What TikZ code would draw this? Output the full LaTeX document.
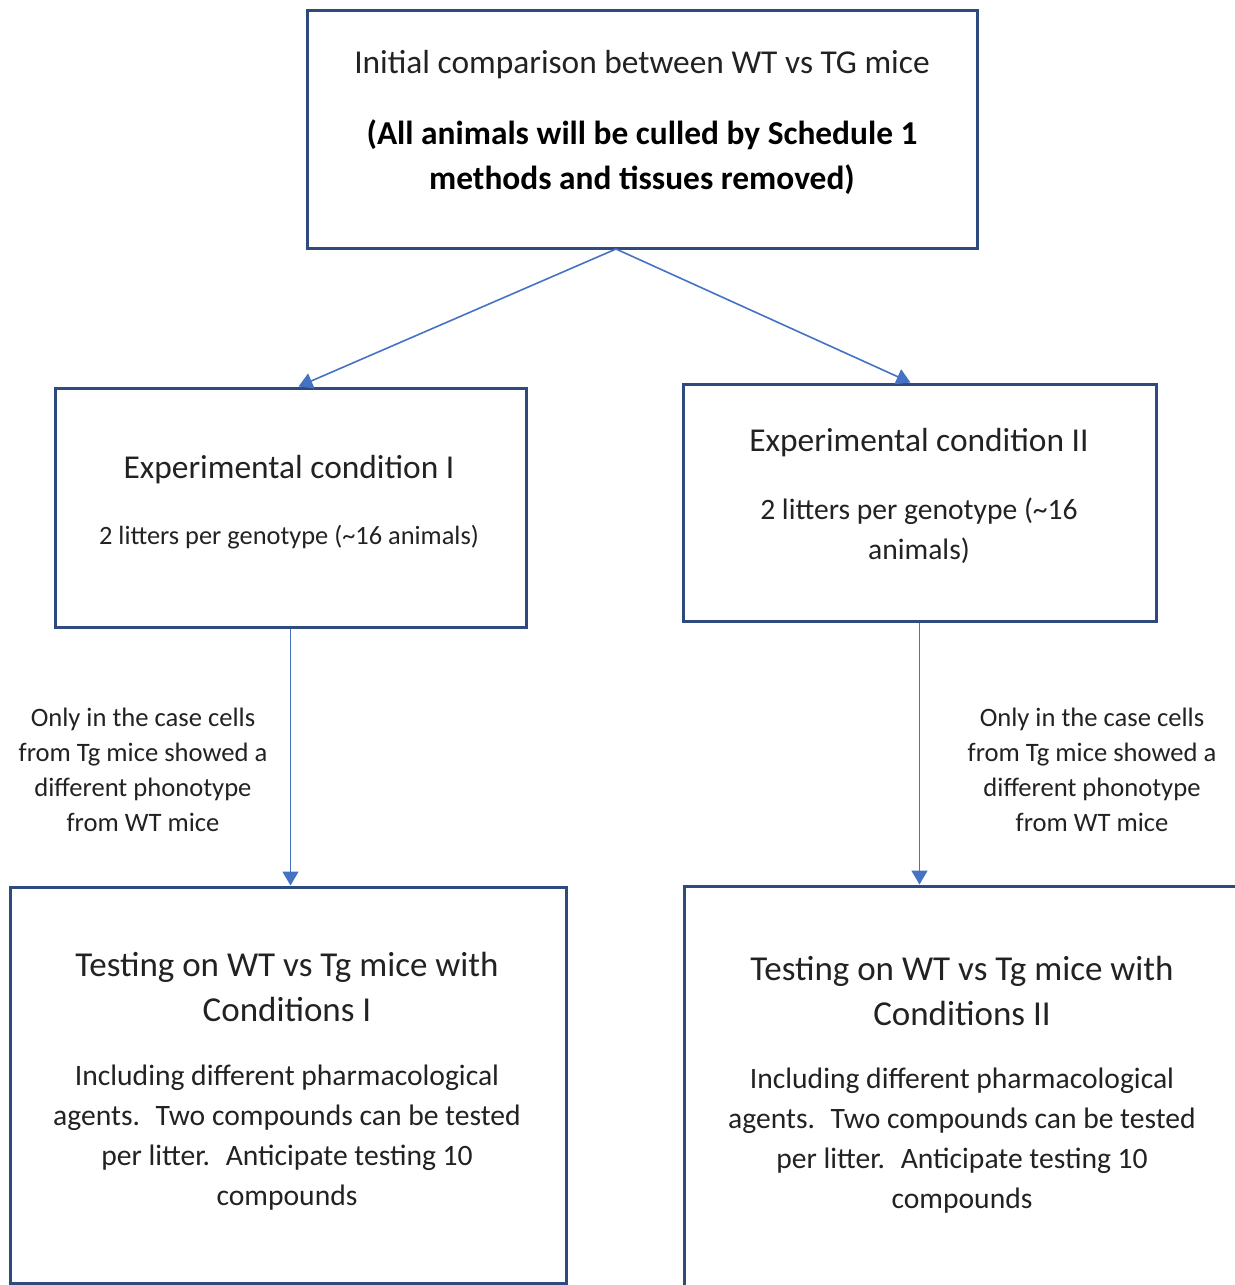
\documentclass[tikz,border=0pt]{standalone}
\usepackage{fontspec}
\setmainfont{Carlito}
\usetikzlibrary{arrows.meta}
\definecolor{boxline}{HTML}{2F4A7C}
\definecolor{arrowblue}{HTML}{4472C4}
\definecolor{textgray}{HTML}{222222}
\tikzset{
  x=0.5pt, y=-0.5pt,
  box/.style={draw=boxline, line width=1.5pt, inner sep=0pt},
  txt/.style={align=center, text=textgray, inner sep=0pt},
  link/.style={draw=arrowblue, line width=0.8pt, -{Triangle[width=8pt,length=7pt]}},
}
\newcommand{\bigtxt}{\fontsize{16.7}{22.5}\selectfont}
\newcommand{\bodytxt}{\fontsize{14.8}{20}\selectfont}
\newcommand{\smalltxt}{\fontsize{13.3}{17.5}\selectfont}

\begin{document}
\begin{tikzpicture}
	      \useasboundingbox (0,0) rectangle (1235,1285);
	      \clip (0,0) rectangle (1235,1285);

	      % boxes
	      \node[box, minimum width=335pt, minimum height=119pt] (start) at (642,129) {};
	      \node[box, minimum width=235.5pt, minimum height=119.5pt] (condI) at (290.5,507.5) {};
	      \node[box, minimum width=236.5pt, minimum height=118.5pt] (condII) at (919.5,502.5) {};
	      \node[box, minimum width=278pt, minimum height=198pt] (testI) at (288,1085) {};
	      \node[box, minimum width=308pt, minimum height=222pt] (testII) at (992,1108) {};

	      % texts
	      \node[txt, font=\bigtxt] (starta) at (642,65) {Initial comparison between WT vs TG mice};
	      \node[txt, font=\bigtxt\bfseries, text=black] (startb) at (642,157)
	        {(All animals will be culled by Schedule 1\\methods and tissues removed)};
	      \node[txt, font=\bigtxt] (condIa) at (289,470) {Experimental condition I};
	      \node[txt, font=\fontsize{13.2}{17.5}\selectfont] (condIb) at (289,537) {2 litters per genotype (\textasciitilde16 animals)};
	      \node[txt, font=\bigtxt] (condIIa) at (919,443) {Experimental condition II};
	      \node[txt, font=\bodytxt] (condIIb) at (919,531) {2 litters per genotype (\textasciitilde16\\animals)};
	      \node[txt, font=\fontsize{17.5}{22.5}\selectfont] (testIa) at (287,987) {Testing on WT vs Tg mice with\\Conditions I};
	      \node[txt, font=\bodytxt] (testIb) at (287,1138)
	        {Including different pharmacological\\agents.~ Two compounds can be tested\\per litter.~ Anticipate testing 10\\compounds};
	      \node[txt, font=\fontsize{17.5}{22.5}\selectfont] (testIIa) at (962,991) {Testing on WT vs Tg mice with\\Conditions II};
	      \node[txt, font=\bodytxt] (testIIb) at (962,1141)
	        {Including different pharmacological\\agents.~ Two compounds can be tested\\per litter.~ Anticipate testing 10\\compounds};

	      % side notes
	      \node[txt, font=\smalltxt] (noteI) at (143,770)
	        {Only in the case cells\\from Tg mice showed a\\different phonotype\\from WT mice};
	      \node[txt, font=\smalltxt] (noteII) at (1092,770)
	        {Only in the case cells\\from Tg mice showed a\\different phonotype\\from WT mice};

	      % arrows
	      \coordinate (split) at (616,249);
	      \draw[link] (split) -- ([xshift=4pt]condI.north);
	      \draw[link] (split) -- ([xshift=-4.5pt]condII.north);
	      \draw[link] (condI.south) -- (condI.south |- testI.north);
	      \draw[link] (condII.south) -- (condII.south |- testII.north);
\end{tikzpicture}
\end{document}
